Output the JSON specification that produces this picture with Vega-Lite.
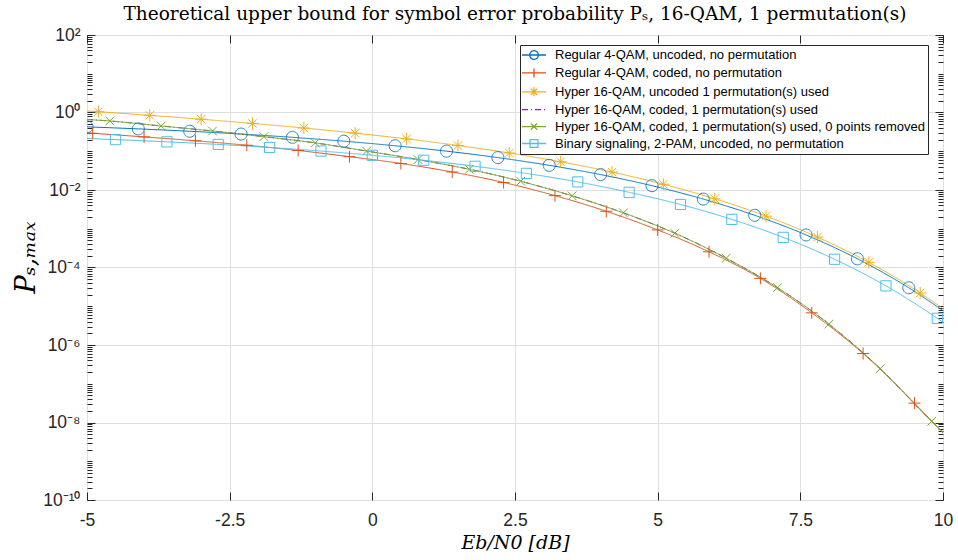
{
  "$schema": "https://vega.github.io/schema/vega-lite/v6.json",
  "width": 856,
  "height": 465,
  "autosize": "none",
  "padding": {"left": 87, "top": 35, "right": 15, "bottom": 60},
  "background": "white",
  "title": {
    "text": "Theoretical upper bound for symbol error probability Pₛ, 16-QAM, 1 permutation(s)",
    "font": "DejaVu Serif",
    "fontSize": 18.5,
    "fontWeight": "normal",
    "color": "#000000",
    "anchor": "middle",
    "baseline": "bottom",
    "offset": 8,
    "dy": 24
  },
  "datasets": {
    "curves": [
      {"s": "Regular 4-QAM, uncoded, no permutation", "x": -5, "y": 0.4264, "m": true},
      {"s": "Regular 4-QAM, uncoded, no permutation", "x": -4.1, "y": 0.3777, "m": true},
      {"s": "Regular 4-QAM, uncoded, no permutation", "x": -3.2, "y": 0.3279, "m": true},
      {"s": "Regular 4-QAM, uncoded, no permutation", "x": -2.3, "y": 0.2778, "m": true},
      {"s": "Regular 4-QAM, uncoded, no permutation", "x": -1.4, "y": 0.2287, "m": true},
      {"s": "Regular 4-QAM, uncoded, no permutation", "x": -0.5, "y": 0.1818, "m": true},
      {"s": "Regular 4-QAM, uncoded, no permutation", "x": 0.4, "y": 0.1386, "m": true},
      {"s": "Regular 4-QAM, uncoded, no permutation", "x": 1.3, "y": 0.1005, "m": true},
      {"s": "Regular 4-QAM, uncoded, no permutation", "x": 2.2, "y": 0.06848, "m": true},
      {"s": "Regular 4-QAM, uncoded, no permutation", "x": 3.1, "y": 0.0433, "m": true},
      {"s": "Regular 4-QAM, uncoded, no permutation", "x": 4.0, "y": 0.025, "m": true},
      {"s": "Regular 4-QAM, uncoded, no permutation", "x": 4.9, "y": 0.01292, "m": true},
      {"s": "Regular 4-QAM, uncoded, no permutation", "x": 5.8, "y": 0.005824, "m": true},
      {"s": "Regular 4-QAM, uncoded, no permutation", "x": 6.7, "y": 0.002224, "m": true},
      {"s": "Regular 4-QAM, uncoded, no permutation", "x": 7.6, "y": 0.0006928, "m": true},
      {"s": "Regular 4-QAM, uncoded, no permutation", "x": 8.5, "y": 0.000168, "m": true},
      {"s": "Regular 4-QAM, uncoded, no permutation", "x": 9.4, "y": 0.00002998, "m": true},
      {"s": "Regular 4-QAM, uncoded, no permutation", "x": 10, "y": 0.000007744, "m": false},

      {"s": "Regular 4-QAM, coded, no permutation", "x": -5, "y": 0.297, "m": false},
      {"s": "Regular 4-QAM, coded, no permutation", "x": -4.9, "y": 0.2904, "m": true},
      {"s": "Regular 4-QAM, coded, no permutation", "x": -4.0, "y": 0.2344, "m": true},
      {"s": "Regular 4-QAM, coded, no permutation", "x": -3.1, "y": 0.1862, "m": true},
      {"s": "Regular 4-QAM, coded, no permutation", "x": -2.2, "y": 0.1429, "m": true},
      {"s": "Regular 4-QAM, coded, no permutation", "x": -1.3, "y": 0.1047, "m": true},
      {"s": "Regular 4-QAM, coded, no permutation", "x": -0.4, "y": 0.07244, "m": true},
      {"s": "Regular 4-QAM, coded, no permutation", "x": 0.5, "y": 0.04842, "m": true},
      {"s": "Regular 4-QAM, coded, no permutation", "x": 1.4, "y": 0.02917, "m": true},
      {"s": "Regular 4-QAM, coded, no permutation", "x": 2.3, "y": 0.01567, "m": true},
      {"s": "Regular 4-QAM, coded, no permutation", "x": 3.2, "y": 0.007161, "m": true},
      {"s": "Regular 4-QAM, coded, no permutation", "x": 4.1, "y": 0.002818, "m": true},
      {"s": "Regular 4-QAM, coded, no permutation", "x": 5.0, "y": 0.0009333, "m": true},
      {"s": "Regular 4-QAM, coded, no permutation", "x": 5.9, "y": 0.0002541, "m": true},
      {"s": "Regular 4-QAM, coded, no permutation", "x": 6.8, "y": 0.00005248, "m": true},
      {"s": "Regular 4-QAM, coded, no permutation", "x": 7.7, "y": 0.000006761, "m": true},
      {"s": "Regular 4-QAM, coded, no permutation", "x": 8.6, "y": 6.026e-7, "m": true},
      {"s": "Regular 4-QAM, coded, no permutation", "x": 9.5, "y": 3.162e-8, "m": true},
      {"s": "Regular 4-QAM, coded, no permutation", "x": 10, "y": 5.37e-9, "m": false},

      {"s": "Hyper 16-QAM, uncoded 1 permutation(s) used", "x": -5, "y": 1.0958, "m": false},
      {"s": "Hyper 16-QAM, uncoded 1 permutation(s) used", "x": -4.8, "y": 1.0469, "m": true},
      {"s": "Hyper 16-QAM, uncoded 1 permutation(s) used", "x": -3.9, "y": 0.8442, "m": true},
      {"s": "Hyper 16-QAM, uncoded 1 permutation(s) used", "x": -3.0, "y": 0.6707, "m": true},
      {"s": "Hyper 16-QAM, uncoded 1 permutation(s) used", "x": -2.1, "y": 0.5226, "m": true},
      {"s": "Hyper 16-QAM, uncoded 1 permutation(s) used", "x": -1.2, "y": 0.3975, "m": true},
      {"s": "Hyper 16-QAM, uncoded 1 permutation(s) used", "x": -0.3, "y": 0.293, "m": true},
      {"s": "Hyper 16-QAM, uncoded 1 permutation(s) used", "x": 0.6, "y": 0.2082, "m": true},
      {"s": "Hyper 16-QAM, uncoded 1 permutation(s) used", "x": 1.5, "y": 0.1411, "m": true},
      {"s": "Hyper 16-QAM, uncoded 1 permutation(s) used", "x": 2.4, "y": 0.09006, "m": true},
      {"s": "Hyper 16-QAM, uncoded 1 permutation(s) used", "x": 3.3, "y": 0.05347, "m": true},
      {"s": "Hyper 16-QAM, uncoded 1 permutation(s) used", "x": 4.2, "y": 0.02902, "m": true},
      {"s": "Hyper 16-QAM, uncoded 1 permutation(s) used", "x": 5.1, "y": 0.01405, "m": true},
      {"s": "Hyper 16-QAM, uncoded 1 permutation(s) used", "x": 6.0, "y": 0.005934, "m": true},
      {"s": "Hyper 16-QAM, uncoded 1 permutation(s) used", "x": 6.9, "y": 0.002114, "m": true},
      {"s": "Hyper 16-QAM, uncoded 1 permutation(s) used", "x": 7.8, "y": 0.0006095, "m": true},
      {"s": "Hyper 16-QAM, uncoded 1 permutation(s) used", "x": 8.7, "y": 0.0001361, "m": true},
      {"s": "Hyper 16-QAM, uncoded 1 permutation(s) used", "x": 9.6, "y": 0.00002203, "m": true},
      {"s": "Hyper 16-QAM, uncoded 1 permutation(s) used", "x": 10, "y": 0.0000087, "m": false},

      {"s": "Hyper 16-QAM, coded, 1 permutation(s) used", "x": -5, "y": 0.6607, "m": false},
      {"s": "Hyper 16-QAM, coded, 1 permutation(s) used", "x": -4.6, "y": 0.6039, "m": false},
      {"s": "Hyper 16-QAM, coded, 1 permutation(s) used", "x": -3.7, "y": 0.4487, "m": false},
      {"s": "Hyper 16-QAM, coded, 1 permutation(s) used", "x": -2.8, "y": 0.3334, "m": false},
      {"s": "Hyper 16-QAM, coded, 1 permutation(s) used", "x": -1.9, "y": 0.2377, "m": false},
      {"s": "Hyper 16-QAM, coded, 1 permutation(s) used", "x": -1.0, "y": 0.1641, "m": false},
      {"s": "Hyper 16-QAM, coded, 1 permutation(s) used", "x": -0.1, "y": 0.1012, "m": false},
      {"s": "Hyper 16-QAM, coded, 1 permutation(s) used", "x": 0.8, "y": 0.06095, "m": false},
      {"s": "Hyper 16-QAM, coded, 1 permutation(s) used", "x": 1.7, "y": 0.03428, "m": false},
      {"s": "Hyper 16-QAM, coded, 1 permutation(s) used", "x": 2.6, "y": 0.01679, "m": false},
      {"s": "Hyper 16-QAM, coded, 1 permutation(s) used", "x": 3.5, "y": 0.007079, "m": false},
      {"s": "Hyper 16-QAM, coded, 1 permutation(s) used", "x": 4.4, "y": 0.00257, "m": false},
      {"s": "Hyper 16-QAM, coded, 1 permutation(s) used", "x": 5.3, "y": 0.0007674, "m": false},
      {"s": "Hyper 16-QAM, coded, 1 permutation(s) used", "x": 6.2, "y": 0.0001738, "m": false},
      {"s": "Hyper 16-QAM, coded, 1 permutation(s) used", "x": 7.1, "y": 0.0000302, "m": false},
      {"s": "Hyper 16-QAM, coded, 1 permutation(s) used", "x": 8.0, "y": 0.000003467, "m": false},
      {"s": "Hyper 16-QAM, coded, 1 permutation(s) used", "x": 8.9, "y": 2.455e-7, "m": false},
      {"s": "Hyper 16-QAM, coded, 1 permutation(s) used", "x": 9.8, "y": 1.072e-8, "m": false},
      {"s": "Hyper 16-QAM, coded, 1 permutation(s) used", "x": 10, "y": 5.623e-9, "m": false},

      {"s": "Hyper 16-QAM, coded, 1 permutation(s) used, 0 points removed", "x": -5, "y": 0.6607, "m": false},
      {"s": "Hyper 16-QAM, coded, 1 permutation(s) used, 0 points removed", "x": -4.6, "y": 0.6039, "m": true},
      {"s": "Hyper 16-QAM, coded, 1 permutation(s) used, 0 points removed", "x": -3.7, "y": 0.4487, "m": true},
      {"s": "Hyper 16-QAM, coded, 1 permutation(s) used, 0 points removed", "x": -2.8, "y": 0.3334, "m": true},
      {"s": "Hyper 16-QAM, coded, 1 permutation(s) used, 0 points removed", "x": -1.9, "y": 0.2377, "m": true},
      {"s": "Hyper 16-QAM, coded, 1 permutation(s) used, 0 points removed", "x": -1.0, "y": 0.1641, "m": true},
      {"s": "Hyper 16-QAM, coded, 1 permutation(s) used, 0 points removed", "x": -0.1, "y": 0.1012, "m": true},
      {"s": "Hyper 16-QAM, coded, 1 permutation(s) used, 0 points removed", "x": 0.8, "y": 0.06095, "m": true},
      {"s": "Hyper 16-QAM, coded, 1 permutation(s) used, 0 points removed", "x": 1.7, "y": 0.03428, "m": true},
      {"s": "Hyper 16-QAM, coded, 1 permutation(s) used, 0 points removed", "x": 2.6, "y": 0.01679, "m": true},
      {"s": "Hyper 16-QAM, coded, 1 permutation(s) used, 0 points removed", "x": 3.5, "y": 0.007079, "m": true},
      {"s": "Hyper 16-QAM, coded, 1 permutation(s) used, 0 points removed", "x": 4.4, "y": 0.00257, "m": true},
      {"s": "Hyper 16-QAM, coded, 1 permutation(s) used, 0 points removed", "x": 5.3, "y": 0.0007674, "m": true},
      {"s": "Hyper 16-QAM, coded, 1 permutation(s) used, 0 points removed", "x": 6.2, "y": 0.0001738, "m": true},
      {"s": "Hyper 16-QAM, coded, 1 permutation(s) used, 0 points removed", "x": 7.1, "y": 0.0000302, "m": true},
      {"s": "Hyper 16-QAM, coded, 1 permutation(s) used, 0 points removed", "x": 8.0, "y": 0.000003467, "m": true},
      {"s": "Hyper 16-QAM, coded, 1 permutation(s) used, 0 points removed", "x": 8.9, "y": 2.455e-7, "m": true},
      {"s": "Hyper 16-QAM, coded, 1 permutation(s) used, 0 points removed", "x": 9.8, "y": 1.072e-8, "m": true},
      {"s": "Hyper 16-QAM, coded, 1 permutation(s) used, 0 points removed", "x": 10, "y": 5.623e-9, "m": false},

      {"s": "Binary signaling, 2-PAM, uncoded, no permutation", "x": -5, "y": 0.2132, "m": false},
      {"s": "Binary signaling, 2-PAM, uncoded, no permutation", "x": -4.5, "y": 0.19978, "m": true},
      {"s": "Binary signaling, 2-PAM, uncoded, no permutation", "x": -3.6, "y": 0.17506, "m": true},
      {"s": "Binary signaling, 2-PAM, uncoded, no permutation", "x": -2.7, "y": 0.15002, "m": true},
      {"s": "Binary signaling, 2-PAM, uncoded, no permutation", "x": -1.8, "y": 0.12517, "m": true},
      {"s": "Binary signaling, 2-PAM, uncoded, no permutation", "x": -0.9, "y": 0.10115, "m": true},
      {"s": "Binary signaling, 2-PAM, uncoded, no permutation", "x": 0, "y": 0.07865, "m": true},
      {"s": "Binary signaling, 2-PAM, uncoded, no permutation", "x": 0.9, "y": 0.05858, "m": true},
      {"s": "Binary signaling, 2-PAM, uncoded, no permutation", "x": 1.8, "y": 0.04095, "m": true},
      {"s": "Binary signaling, 2-PAM, uncoded, no permutation", "x": 2.7, "y": 0.02681, "m": true},
      {"s": "Binary signaling, 2-PAM, uncoded, no permutation", "x": 3.6, "y": 0.016157, "m": true},
      {"s": "Binary signaling, 2-PAM, uncoded, no permutation", "x": 4.5, "y": 0.008718, "m": true},
      {"s": "Binary signaling, 2-PAM, uncoded, no permutation", "x": 5.4, "y": 0.004228, "m": true},
      {"s": "Binary signaling, 2-PAM, uncoded, no permutation", "x": 6.3, "y": 0.001745, "m": true},
      {"s": "Binary signaling, 2-PAM, uncoded, no permutation", "x": 7.2, "y": 0.0005986, "m": true},
      {"s": "Binary signaling, 2-PAM, uncoded, no permutation", "x": 8.1, "y": 0.0001632, "m": true},
      {"s": "Binary signaling, 2-PAM, uncoded, no permutation", "x": 9.0, "y": 0.0000336, "m": true},
      {"s": "Binary signaling, 2-PAM, uncoded, no permutation", "x": 9.9, "y": 0.00000489, "m": true},
      {"s": "Binary signaling, 2-PAM, uncoded, no permutation", "x": 10, "y": 0.000003872, "m": false}
    ]
  },
  "data": {"name": "curves"},
  "layer": [
    {
      "transform": [{"filter": "datum.x > 1000"}],
      "mark": {"type": "point", "filled": false, "size": 144, "strokeWidth": 1.3, "clip": true},
      "encoding": {
        "x": {
          "field": "x", "type": "quantitative",
          "scale": {"domain": [-5, 10], "nice": false, "zero": false},
          "axis": {"orient": "top", "values": [-5, -2.5, 0, 2.5, 5, 7.5, 10], "labels": false, "title": null, "grid": false, "domain": false, "tickSize": -8, "tickColor": "#262626", "tickWidth": 1}
        },
        "y": {
          "field": "y", "type": "quantitative",
          "scale": {"type": "log", "domain": [1e-10, 100], "nice": false},
          "axis": {
            "orient": "right",
            "values": [1e-10,2e-10,3e-10,4e-10,5e-10,6e-10,7e-10,8e-10,9e-10,1e-9,2e-9,3e-9,4e-9,5e-9,6e-9,7e-9,8e-9,9e-9,1e-8,2e-8,3e-8,4e-8,5e-8,6e-8,7e-8,8e-8,9e-8,1e-7,2e-7,3e-7,4e-7,5e-7,6e-7,7e-7,8e-7,9e-7,1e-6,2e-6,3e-6,4e-6,5e-6,6e-6,7e-6,8e-6,9e-6,1e-5,2e-5,3e-5,4e-5,5e-5,6e-5,7e-5,8e-5,9e-5,1e-4,2e-4,3e-4,4e-4,5e-4,6e-4,7e-4,8e-4,9e-4,1e-3,2e-3,3e-3,4e-3,5e-3,6e-3,7e-3,8e-3,9e-3,0.01,0.02,0.03,0.04,0.05,0.06,0.07,0.08,0.09,0.1,0.2,0.3,0.4,0.5,0.6,0.7,0.8,0.9,1,2,3,4,5,6,7,8,9,10,20,30,40,50,60,70,80,90,100],
            "labels": false, "title": null, "grid": false, "domain": false,
            "tickColor": "#262626", "tickWidth": 1,
            "tickSize": {"condition": {"test": "datum.value == 100 || datum.value == 1 || datum.value == 0.01 || datum.value == 0.0001 || datum.value == 0.000001 || datum.value == 1e-8 || datum.value == 1e-10", "value": -8}, "value": -5}
          }
        },
        "color": {
          "field": "s", "type": "nominal",
          "scale": {
            "domain": ["Regular 4-QAM, uncoded, no permutation", "Regular 4-QAM, coded, no permutation", "Hyper 16-QAM, uncoded 1 permutation(s) used", "Hyper 16-QAM, coded, 1 permutation(s) used", "Hyper 16-QAM, coded, 1 permutation(s) used, 0 points removed", "Binary signaling, 2-PAM, uncoded, no permutation"],
            "range": ["#0072BD", "#D95319", "#EDB120", "#7E2F8E", "#77AC30", "#4DBEEE"]
          },
          "legend": {"title": null, "orient": "none", "legendX": 433, "legendY": 10, "direction": "vertical"}
        },
        "shape": {
          "field": "s", "type": "nominal",
          "scale": {
            "domain": ["Regular 4-QAM, uncoded, no permutation", "Regular 4-QAM, coded, no permutation", "Hyper 16-QAM, uncoded 1 permutation(s) used", "Hyper 16-QAM, coded, 1 permutation(s) used", "Hyper 16-QAM, coded, 1 permutation(s) used, 0 points removed", "Binary signaling, 2-PAM, uncoded, no permutation"],
            "range": [
              "M-2,0L2,0M0.72,0A0.72,0.72,0,1,1,-0.72,0A0.72,0.72,0,1,1,0.72,0",
              "M-2,0L2,0M0,-0.75L0,0.75",
              "M-2,0L2,0M0,-0.75L0,0.75M-0.53,-0.53L0.53,0.53M-0.53,0.53L0.53,-0.53",
              "M-2,0L2,0",
              "M-2,0L2,0M-0.53,-0.53L0.53,0.53M-0.53,0.53L0.53,-0.53",
              "M-2,0L2,0M-0.65,-0.65L0.65,-0.65L0.65,0.65L-0.65,0.65Z"
            ]
          },
          "legend": {"title": null, "orient": "none", "legendX": 433, "legendY": 10, "direction": "vertical"}
        }
      }
    },
    {
      "mark": {"type": "line", "strokeWidth": 1, "interpolate": "monotone", "clip": true},
      "encoding": {
        "x": {
          "field": "x", "type": "quantitative",
          "axis": {
            "orient": "bottom",
            "values": [-5, -2.5, 0, 2.5, 5, 7.5, 10],
            "labelExpr": "'' + datum.value",
            "title": "Eb/N0 [dB]",
            "titleFont": "DejaVu Serif", "titleFontStyle": "italic", "titleFontWeight": "normal",
            "titleFontSize": 19, "titleColor": "#000000", "titlePadding": 5,
            "labelFont": "Liberation Sans", "labelFontSize": 17.5, "labelColor": "#262626",
            "labelPadding": 19, "labelFlush": false, "labelOverlap": false,
            "tickSize": -8, "tickColor": "#262626", "tickWidth": 1,
            "domain": false,
            "grid": true, "gridColor": "#dfdfdf", "gridWidth": 1
          }
        },
        "y": {
          "field": "y", "type": "quantitative",
          "axis": {
            "orient": "left",
            "values": [1e-10,2e-10,3e-10,4e-10,5e-10,6e-10,7e-10,8e-10,9e-10,1e-9,2e-9,3e-9,4e-9,5e-9,6e-9,7e-9,8e-9,9e-9,1e-8,2e-8,3e-8,4e-8,5e-8,6e-8,7e-8,8e-8,9e-8,1e-7,2e-7,3e-7,4e-7,5e-7,6e-7,7e-7,8e-7,9e-7,1e-6,2e-6,3e-6,4e-6,5e-6,6e-6,7e-6,8e-6,9e-6,1e-5,2e-5,3e-5,4e-5,5e-5,6e-5,7e-5,8e-5,9e-5,1e-4,2e-4,3e-4,4e-4,5e-4,6e-4,7e-4,8e-4,9e-4,1e-3,2e-3,3e-3,4e-3,5e-3,6e-3,7e-3,8e-3,9e-3,0.01,0.02,0.03,0.04,0.05,0.06,0.07,0.08,0.09,0.1,0.2,0.3,0.4,0.5,0.6,0.7,0.8,0.9,1,2,3,4,5,6,7,8,9,10,20,30,40,50,60,70,80,90,100],
            "labelExpr": "datum.value == 100 ? '10²' : datum.value == 1 ? '10⁰' : datum.value == 0.01 ? '10⁻²' : datum.value == 0.0001 ? '10⁻⁴' : datum.value == 0.000001 ? '10⁻⁶' : datum.value == 1e-8 ? '10⁻⁸' : datum.value == 1e-10 ? '10⁻¹⁰' : ''",
            "title": "Pₛ,ₘₐₓ",
            "titleFont": "DejaVu Serif", "titleFontStyle": "italic", "titleFontWeight": "normal",
            "titleFontSize": 27, "titleColor": "#000000", "titlePadding": 2, "titleY": 222,
            "labelFont": "Liberation Sans", "labelFontSize": 17.5, "labelColor": "#262626",
            "labelPadding": 15, "labelOverlap": false, "labelFlush": false,
            "tickColor": "#262626", "tickWidth": 1,
            "tickSize": {"condition": {"test": "datum.value == 100 || datum.value == 1 || datum.value == 0.01 || datum.value == 0.0001 || datum.value == 0.000001 || datum.value == 1e-8 || datum.value == 1e-10", "value": -8}, "value": -5},
            "domain": false,
            "grid": true, "gridColor": "#dfdfdf", "gridWidth": 1,
            "gridOpacity": {"condition": {"test": "datum.value == 100 || datum.value == 1 || datum.value == 0.01 || datum.value == 0.0001 || datum.value == 0.000001 || datum.value == 1e-8 || datum.value == 1e-10", "value": 1}, "value": 0}
          }
        },
        "color": {"field": "s", "type": "nominal", "legend": null},
        "strokeDash": {
          "field": "s", "type": "nominal",
          "scale": {
            "domain": ["Regular 4-QAM, uncoded, no permutation", "Regular 4-QAM, coded, no permutation", "Hyper 16-QAM, uncoded 1 permutation(s) used", "Hyper 16-QAM, coded, 1 permutation(s) used", "Hyper 16-QAM, coded, 1 permutation(s) used, 0 points removed", "Binary signaling, 2-PAM, uncoded, no permutation"],
            "range": [[1, 0], [1, 0], [1, 0], [6, 3, 1, 3], [1, 0], [1, 0]]
          },
          "legend": null
        }
      }
    },
    {
      "transform": [{"filter": "datum.m && datum.s == 'Regular 4-QAM, uncoded, no permutation'"}],
      "mark": {"type": "point", "shape": "M1,0A1,1,0,1,1,-1,0A1,1,0,1,1,1,0Z", "size": 144, "filled": false, "strokeWidth": 1, "color": "#0072BD", "opacity": 0.85, "clip": true},
      "encoding": {"x": {"field": "x", "type": "quantitative", "axis": null}, "y": {"field": "y", "type": "quantitative", "axis": null}}
    },
    {
      "transform": [{"filter": "datum.m && datum.s == 'Regular 4-QAM, coded, no permutation'"}],
      "mark": {"type": "point", "shape": "M-1,0L1,0M0,-1L0,1", "size": 144, "filled": false, "strokeWidth": 1, "color": "#D95319", "opacity": 1, "clip": true},
      "encoding": {"x": {"field": "x", "type": "quantitative", "axis": null}, "y": {"field": "y", "type": "quantitative", "axis": null}}
    },
    {
      "transform": [{"filter": "datum.m && datum.s == 'Hyper 16-QAM, uncoded 1 permutation(s) used'"}],
      "mark": {"type": "point", "shape": "M-1,0L1,0M0,-1L0,1M-0.7,-0.7L0.7,0.7M-0.7,0.7L0.7,-0.7", "size": 144, "filled": false, "strokeWidth": 1, "color": "#EDB120", "opacity": 1, "clip": true},
      "encoding": {"x": {"field": "x", "type": "quantitative", "axis": null}, "y": {"field": "y", "type": "quantitative", "axis": null}}
    },
    {
      "transform": [{"filter": "datum.m && datum.s == 'Hyper 16-QAM, coded, 1 permutation(s) used, 0 points removed'"}],
      "mark": {"type": "point", "shape": "M-0.72,-0.72L0.72,0.72M-0.72,0.72L0.72,-0.72", "size": 144, "filled": false, "strokeWidth": 1, "color": "#77AC30", "opacity": 1, "clip": true},
      "encoding": {"x": {"field": "x", "type": "quantitative", "axis": null}, "y": {"field": "y", "type": "quantitative", "axis": null}}
    },
    {
      "transform": [{"filter": "datum.m && datum.s == 'Binary signaling, 2-PAM, uncoded, no permutation'"}],
      "mark": {"type": "point", "shape": "M-0.85,-0.85L0.85,-0.85L0.85,0.85L-0.85,0.85Z", "size": 144, "filled": false, "strokeWidth": 1, "color": "#4DBEEE", "opacity": 1, "clip": true},
      "encoding": {"x": {"field": "x", "type": "quantitative", "axis": null}, "y": {"field": "y", "type": "quantitative", "axis": null}}
    }
  ],
  "resolve": {"axis": {"x": "independent", "y": "independent"}},
  "config": {
    "view": {"stroke": "#262626", "strokeWidth": 1},
    "legend": {
      "padding": 3,
      "fillColor": "#ffffff",
      "strokeColor": "#262626",
      "strokeWidth": 1,
      "symbolOffset": 4,
      "symbolStrokeWidth": 1.3,
      "symbolSize": 144,
      "symbolOpacity": 1,
      "labelOffset": 14,
      "labelFont": "Liberation Sans",
      "labelFontSize": 13,
      "labelColor": "#000000",
      "labelLimit": 1000,
      "rowPadding": 2.9,
      "cornerRadius": 0
    }
  }
}
